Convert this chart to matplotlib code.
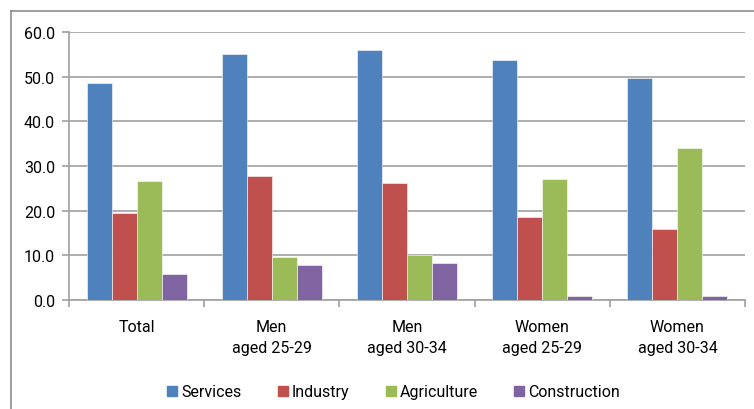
""" share of employment by sector for young men and women """
import matplotlib
matplotlib.use("Agg")
import matplotlib.pyplot as plt
from matplotlib.lines import Line2D
import numpy as np

groups = ["Total", "Men\naged 25-29", "Men\naged 30-34", "Women\naged 25-29", "Women\naged 30-34"]
sectors = ["Services", "Industry", "Agriculture", "Construction"]
services = [48.6, 55.1, 55.9, 53.8, 49.7]
industry = [19.4, 27.8, 26.3, 18.5, 15.8]
agriculture = [26.6, 9.6, 10.1, 27.0, 34.0]
construction = [5.8, 7.8, 8.2, 1.0, 0.8]
colors = ["#4F81BD", "#C0504D", "#9BBB59", "#8064A2"]

plt.rcParams["font.family"] = ["Roboto", "DejaVu Sans"]

fig = plt.figure(figsize=(7.54, 4.10), dpi=100)
W, H = 754, 410
ax = fig.add_axes([69 / W, 1 - 301 / H, 676 / W, 268 / H])

x = np.arange(len(groups))
width = 0.185
series = [services, industry, agriculture, construction]
for i, (vals, col, name) in enumerate(zip(series, colors, sectors)):
    ax.bar(x + (i - 1.5) * width, vals, width, color=col, label=name,
           edgecolor="white", linewidth=0.4, zorder=3)

grid_col = "#a0a0a0"
ax.set_ylim(0, 60)
ax.set_xlim(-0.5, len(groups) - 0.5)
ax.set_yticks(np.arange(0, 61, 10))
ax.set_yticklabels(["%.1f" % v for v in np.arange(0, 61, 10)], fontsize=11.5)
ax.yaxis.grid(True, color=grid_col, linewidth=1.2, zorder=0)
ax.set_axisbelow(True)

ax.set_xticks(x)
ax.set_xticklabels(groups, fontsize=11.5, linespacing=1.45)
ax.set_xticks(np.arange(-0.5, len(groups)), minor=True)
ax.tick_params(axis="x", which="major", length=0, pad=14)
ax.tick_params(axis="x", which="minor", length=5, color=grid_col, width=1.2)
ax.tick_params(axis="y", length=5, color=grid_col, width=1.2, pad=5)

for side in ["top", "right"]:
    ax.spines[side].set_visible(False)
for side in ["left", "bottom"]:
    ax.spines[side].set_color(grid_col)
    ax.spines[side].set_linewidth(1.2)

handles = [Line2D([], [], marker="s", linestyle="none", markersize=7.5,
                  markerfacecolor=c, markeredgecolor=c) for c in colors]
fig.legend(handles, sectors, loc="center", bbox_to_anchor=(392 / W, 1 - 393 / H),
           ncol=4, frameon=False, fontsize=11.5, handletextpad=0.05,
           columnspacing=2.1, handlelength=1.0)

# outer chart border
fig.add_artist(Line2D([11 / W, 11 / W], [0, 1 - 12 / H], color="#8c8c8c", linewidth=1.2))
fig.add_artist(Line2D([11 / W, 1], [1 - 12 / H, 1 - 12 / H], color="#8c8c8c", linewidth=1.2))

fig.savefig("out.png", dpi=100)
